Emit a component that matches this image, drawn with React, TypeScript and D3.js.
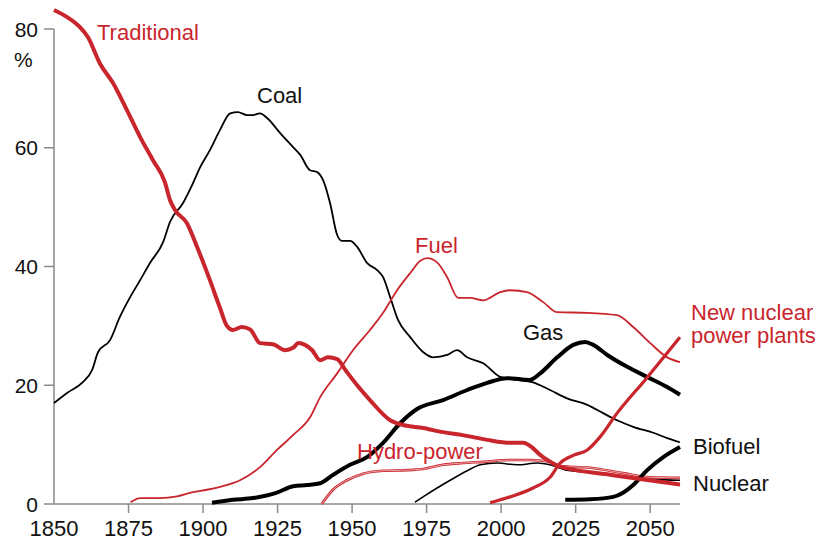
import React from 'react';
import * as d3 from 'd3';

type Pt = [number, number];

const traditional: Pt[] = [
  [1850, 83.2], [1854.4, 82], [1858.7, 80.3], [1861.4, 78.6], [1865.4, 74.2], [1869.8, 70.9],
  [1874.5, 66.3], [1878.9, 61.8], [1883.2, 57.9], [1887.2, 54.2], [1888.9, 51.2], [1890.6, 49.5],
  [1894.6, 47.3], [1898, 43.3], [1902.3, 37.7], [1905.7, 33], [1908, 30], [1910, 29.3],
  [1913, 29.8], [1915.8, 29.4], [1919.1, 27.1], [1923.5, 26.9], [1927.5, 25.9], [1930.2, 26.3],
  [1932, 27.1], [1934.2, 26.8], [1936.6, 25.9], [1939.3, 24.2], [1941.9, 24.7], [1945, 24.4],
  [1947.7, 22.6], [1951.7, 20], [1956, 17.5], [1962.8, 14.1], [1967.1, 13.3], [1973.8, 12.8],
  [1980.5, 12.1], [1987.2, 11.6], [1995.3, 10.8], [2003, 10.3], [2007.4, 10.3], [2014.1, 7.9],
  [2019.1, 6.4], [2022.1, 6.0], [2035.6, 5.0], [2046.6, 4.2], [2060, 3.3],
];

const coal: Pt[] = [
  [1850, 17], [1854.4, 18.7], [1859.4, 20.4], [1862.8, 22.6], [1864.8, 25.6], [1868.8, 27.6],
  [1872.1, 31.5], [1875.5, 34.8], [1878.9, 37.7], [1882.2, 40.6], [1886.6, 44.1], [1888.9, 47.5],
  [1893.3, 50.7], [1896.6, 54], [1899, 56.7], [1902.3, 59.6], [1905.7, 63], [1909.1, 65.8],
  [1911.7, 66], [1914.8, 65.5], [1916.8, 65.5], [1919.1, 65.8], [1921.5, 65], [1925.8, 62.5],
  [1930.2, 60.1], [1932.6, 58.8], [1935.9, 56.2], [1938.3, 55.9], [1940.3, 54.5], [1942.6, 50.7],
  [1945, 45.3], [1946.6, 44.3], [1949.3, 44.3], [1951.7, 43.3], [1955, 40.6], [1958.4, 39.4],
  [1960.4, 38.2], [1962.8, 34.8], [1965.4, 31], [1969.5, 28.1], [1973.8, 25.6], [1977.2, 24.7],
  [1981.9, 25.1], [1985.2, 25.9], [1988.6, 24.7], [1994, 23.7], [1999.7, 21.4], [2004, 21],
  [2010.7, 20.5], [2016.4, 19.2], [2022.1, 17.8], [2028.9, 16.7], [2034.2, 15.3], [2038.9, 14.1],
  [2044.3, 13], [2051, 12], [2055.7, 11.1], [2060, 10.4],
];

const fuel: Pt[] = [
  [1875.7, 0.3], [1878.9, 1.0], [1885.6, 1.0], [1891.3, 1.3], [1896.6, 2.0], [1901.3, 2.4],
  [1905.7, 2.9], [1912.4, 4.0], [1919.1, 6.2], [1924.8, 9.1], [1930.2, 11.6], [1935.9, 14.6],
  [1939.3, 18], [1945, 22], [1950.3, 25.9], [1956, 29.3], [1960.4, 32.2], [1965.1, 36],
  [1969.5, 38.9], [1973, 41], [1975.2, 41.4], [1978.5, 40.7], [1981.9, 38.2], [1985.6, 34.7],
  [1989.6, 34.7], [1994, 34.3], [1999.7, 35.7], [2003, 36], [2008.7, 35.7], [2014.1, 34],
  [2018.8, 32.3], [2028.9, 32.2], [2038.9, 31.8], [2044.3, 29.8], [2050, 27.1], [2055.7, 24.7],
  [2060, 23.9],
];

const gas: Pt[] = [
  [1903, 0.2], [1910, 0.7], [1916.8, 1.0], [1924.8, 1.9], [1930.2, 3.0], [1934.9, 3.2],
  [1939.3, 3.5], [1943.6, 4.9], [1949.3, 6.6], [1955, 7.9], [1960.4, 10.3], [1966.1, 13.6],
  [1971.8, 16], [1980.5, 17.5], [1988.6, 19.2], [1995.3, 20.4], [2002, 21.2], [2009.7, 20.9],
  [2013.1, 22], [2018.8, 24.7], [2024.2, 26.8], [2028.2, 27.3], [2030.9, 26.8], [2035.6, 25.1],
  [2042.3, 23.1], [2049, 21.4], [2055.7, 19.7], [2060, 18.4],
];

const hydro: Pt[] = [
  [1939.8, 0], [1943.6, 2.4], [1948.3, 4.0], [1953.7, 5.1], [1960.4, 5.6], [1968.5, 5.7],
  [1973.8, 5.9], [1980.5, 6.6], [1987.2, 6.9], [1994, 7.1], [2003, 7.4], [2009.7, 7.4],
  [2016.4, 7.1], [2019.8, 6.4], [2029.9, 6.1], [2040.9, 5.2], [2050, 4.5], [2060, 4.4],
];

const nuclear: Pt[] = [
  [1971.1, 0.3], [1973.8, 1.2], [1978.5, 2.7], [1982.9, 4.0], [1988.6, 5.6], [1993, 6.6],
  [1998.7, 6.9], [2005.4, 6.6], [2012.1, 6.9], [2016.4, 6.6], [2022.1, 5.7], [2033.2, 5.2],
  [2044.3, 4.4], [2060, 4.0],
];

const newNuclear: Pt[] = [
  [1996.3, 0.2], [2003, 1.2], [2010.7, 2.7], [2016.4, 4.5], [2019.8, 6.9], [2024.2, 8.2],
  [2028.9, 9.1], [2033.2, 11.3], [2038.9, 15.3], [2048.3, 20.9], [2060, 28.1],
];

const biofuel: Pt[] = [
  [2021.5, 0.7], [2029.9, 0.8], [2037.6, 1.2], [2040.9, 1.9], [2044.3, 3.2], [2049, 5.7],
  [2054.4, 7.9], [2060, 9.6],
];

const xTicks = [1850, 1875, 1900, 1925, 1950, 1975, 2000, 2025, 2050];
const yTicks = [0, 20, 40, 60, 80];

const RED = '#c9252c';
const FONT = '"Liberation Sans", Arial, sans-serif';

export default function App() {
  const width = 819;
  const height = 541;
  const x = d3.scaleLinear().domain([1850, 2060]).range([54, 680]);
  const y = d3.scaleLinear().domain([0, 80]).range([504, 29]);
  const line = d3.line<Pt>().x((d) => x(d[0])).y((d) => y(d[1])).curve(d3.curveMonotoneX);

  return (
    <svg width={width} height={height} style={{ position: 'absolute', left: 0, top: 0, background: '#fff' }} fontFamily={FONT}>
      {/* axes */}
      <g stroke="#8a8a8a" strokeWidth={1.5} fill="none">
        <line x1={x(1850)} x2={x(1850)} y1={y(80)} y2={y(0)} />
        <line x1={x(1850)} x2={x(2060)} y1={y(0)} y2={y(0)} />
        {yTicks.map((t) => (
          <line key={t} x1={x(1850) - 10} x2={x(1850)} y1={y(t)} y2={y(t)} />
        ))}
        {xTicks.slice(1).map((t) => (
          <line key={t} x1={x(t)} x2={x(t)} y1={y(0)} y2={y(0) + 9} />
        ))}
      </g>
      {yTicks.map((t) => (
        <text key={t} x={38} y={y(t)} dy="0.36em" textAnchor="end" fontSize={21} fill="#111">{t}</text>
      ))}
      <text x={14} y={67} fontSize={21} fill="#111">%</text>
      {xTicks.map((t) => (
        <text key={t} x={x(t)} y={536} textAnchor="middle" fontSize={22} fill="#111">{t}</text>
      ))}

      {/* series */}
      <path d={line(coal) || undefined} fill="none" stroke="#000" strokeWidth={1.8} />
      <path d={line(fuel) || undefined} fill="none" stroke={RED} strokeWidth={1.8} />
      <path d={line(nuclear) || undefined} fill="none" stroke="#000" strokeWidth={1.6} />
      <path d={line(hydro) || undefined} fill="none" stroke={RED} strokeWidth={2.6} />
      <path d={line(hydro) || undefined} fill="none" stroke="#f3c4c4" strokeWidth={0.8} />
      <path d={line(gas) || undefined} fill="none" stroke="#000" strokeWidth={4} />
      <path d={line(biofuel) || undefined} fill="none" stroke="#000" strokeWidth={4} />
      <path d={line(traditional) || undefined} fill="none" stroke={RED} strokeWidth={4} />
      <path d={line(newNuclear) || undefined} fill="none" stroke={RED} strokeWidth={3.2} />

      {/* labels */}
      <g fontSize={22}>
        <text x={97} y={40} fill={RED}>Traditional</text>
        <text x={257} y={103} fill="#111">Coal</text>
        <text x={415} y={253} fill={RED}>Fuel</text>
        <text x={523} y={340} fill="#111">Gas</text>
        <text x={691} y={320} fill={RED}>New nuclear</text>
        <text x={691} y={343} fill={RED}>power plants</text>
        <text x={357} y={459} fill={RED}>Hydro-power</text>
        <text x={693} y={454} fill="#111">Biofuel</text>
        <text x={693} y={491} fill="#111">Nuclear</text>
      </g>
    </svg>
  );
}
